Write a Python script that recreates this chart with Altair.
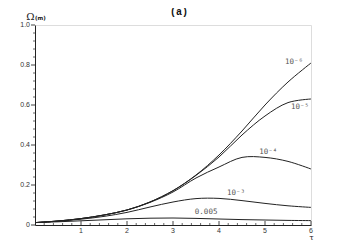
import altair as alt
import pandas as pd

# ---- data ----
tau = [0, 0.5, 1, 1.5, 2, 2.5, 3, 3.5, 4, 4.5, 5, 5.5, 6]
om_1e6 = [0.012, 0.020, 0.032, 0.050, 0.075, 0.115, 0.172, 0.250, 0.350, 0.470, 0.600, 0.715, 0.810]
om_1e5 = [0.012, 0.020, 0.032, 0.050, 0.075, 0.115, 0.171, 0.248, 0.340, 0.450, 0.545, 0.612, 0.630]
om_1e4 = [0.012, 0.020, 0.032, 0.050, 0.075, 0.113, 0.165, 0.235, 0.290, 0.338, 0.338, 0.318, 0.280]
om_1e3 = [0.012, 0.019, 0.029, 0.043, 0.063, 0.090, 0.115, 0.132, 0.133, 0.122, 0.108, 0.096, 0.088]
om_005 = [0.012, 0.016, 0.021, 0.026, 0.031, 0.034, 0.035, 0.033, 0.030, 0.027, 0.025, 0.023, 0.022]
series_names = ["1e-6", "1e-5", "1e-4", "1e-3", "0.005"]

label_text = ["10⁻⁶", "10⁻⁵", "10⁻⁴", "10⁻³", "0.005"]
label_tau = [5.63, 5.76, 5.07, 4.37, 3.72]
label_omega = [0.815, 0.59, 0.365, 0.16, 0.065]

x_major = [1, 2, 3, 4, 5, 6]
x_labels = ["1", "2", "3", "4", "5", "6"]
y_major = [0, 0.2, 0.4, 0.6, 0.8, 1.0]
y_labels = ["0", "0.2", "0.4", "0.6", "0.8", "1.0"]
x_minor = [round(i * 0.2, 2) for i in range(31) if i % 5 != 0]
y_minor = [round(i * 0.04, 2) for i in range(26) if i % 5 != 0]

rows = []
for name, vals in zip(series_names, [om_1e6, om_1e5, om_1e4, om_1e3, om_005]):
    for t, v in zip(tau, vals):
        rows.append({"tau": t, "omega": v, "series": name})
df = pd.DataFrame(rows)
labels_df = pd.DataFrame({"text": label_text, "tau": label_tau, "omega": label_omega})
xmaj_df = pd.DataFrame({"tau": x_major, "lab": x_labels})
ymaj_df = pd.DataFrame({"omega": y_major, "lab": y_labels})
xminor_df = pd.DataFrame({"tau": x_minor})
yminor_df = pd.DataFrame({"omega": y_minor})

x_scale = alt.Scale(domain=[0, 6], nice=False)
y_scale = alt.Scale(domain=[0, 1], nice=False)

x_axis = alt.Axis(
    values=x_major, labels=False, ticks=False, grid=False,
    title="τ", titleAngle=0, titleX=276, titleY=12,
    titleFont="DejaVu Serif", titleFontSize=7.5, titleFontWeight="normal",
    titleBaseline="middle", titleAlign="center", titleColor="#222",
    domainColor="#222",
)
y_axis = alt.Axis(
    values=y_major, labels=False, ticks=False, grid=False,
    title="Ω", titleAngle=0, titleX=-5, titleY=-9,
    titleFont="DejaVu Serif", titleFontSize=10, titleFontWeight="normal",
    titleBaseline="middle", titleAlign="center", titleColor="#222",
    domainColor="#222",
)

lines = alt.Chart(df).mark_line(interpolate="catmull-rom", color="#222", strokeWidth=1).encode(
    x=alt.X("tau:Q", scale=x_scale, axis=x_axis),
    y=alt.Y("omega:Q", scale=y_scale, axis=y_axis),
    detail="series:N",
)

# ticks: x ticks point up into the plot, y ticks point left
xmaj_ticks = alt.Chart(xmaj_df).mark_rule(color="#444", strokeWidth=1).encode(
    x=alt.X("tau:Q", scale=x_scale), y=alt.value(196), y2=alt.value(200)
)
xminor = alt.Chart(xminor_df).mark_rule(color="#666", strokeWidth=1).encode(
    x=alt.X("tau:Q", scale=x_scale), y=alt.value(198), y2=alt.value(200)
)
ymaj_ticks = alt.Chart(ymaj_df).mark_rule(color="#444", strokeWidth=1).encode(
    y=alt.Y("omega:Q", scale=y_scale), x=alt.value(-4), x2=alt.value(0)
)
yminor = alt.Chart(yminor_df).mark_rule(color="#666", strokeWidth=1).encode(
    y=alt.Y("omega:Q", scale=y_scale), x=alt.value(-2), x2=alt.value(0)
)

xlab = alt.Chart(xmaj_df).mark_text(
    font="Liberation Sans", fontSize=7, color="#333", baseline="top", align="center"
).encode(x=alt.X("tau:Q", scale=x_scale), y=alt.value(201.5), text="lab:N")
ylab = alt.Chart(ymaj_df).mark_text(
    font="Liberation Sans", fontSize=7, color="#333", baseline="middle", align="right"
).encode(y=alt.Y("omega:Q", scale=y_scale), x=alt.value(-5), text="lab:N")

texts = alt.Chart(labels_df).mark_text(
    font="DejaVu Sans Mono", fontSize=7.5, color="#555", baseline="middle", align="center"
).encode(
    x=alt.X("tau:Q", scale=x_scale),
    y=alt.Y("omega:Q", scale=y_scale),
    text="text:N",
)

sub = alt.Chart(alt.Data(values=[{"t": "(m)"}])).mark_text(
    font="DejaVu Sans", fontSize=5.5, fontWeight="bold", color="#222", align="left", baseline="middle"
).encode(x=alt.value(0), y=alt.value(-7), text="t:N")

title = alt.Chart(alt.Data(values=[{"t": "(a)"}])).mark_text(
    font="Liberation Mono", fontSize=10, fontWeight="bold", color="#111", align="center", baseline="middle"
).encode(x=alt.value(144), y=alt.value(-13), text="t:N")

chart = alt.layer(
    lines, xmaj_ticks, xminor, ymaj_ticks, yminor, xlab, ylab, texts, sub, title
).properties(
    width=276, height=200,
    padding={"left": 27, "top": 17, "right": 23, "bottom": 17},
    autosize="none",
).configure_view(stroke=None).configure(background="white")

chart.save("out.html", embed_options={"renderer": "svg", "actions": False})
